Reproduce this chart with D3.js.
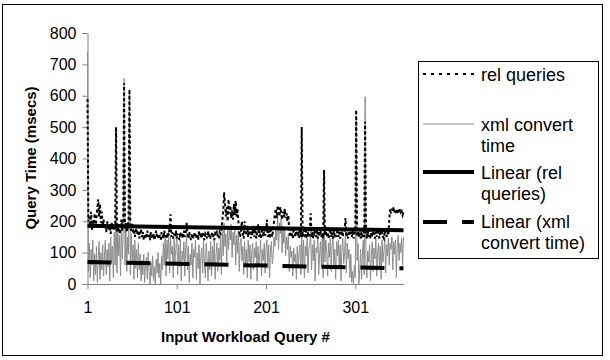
<!DOCTYPE html>
<html>
<head>
<meta charset="utf-8">
<script src="https://cdn.jsdelivr.net/npm/d3@7"></script>
<style>
  body { margin: 0; background: #fff; }
  svg { display: block; font-family: "Liberation Sans", Arial, sans-serif; }
</style>
</head>
<body>
<div id="chart"></div>
<script>
// query time per input workload query (msecs)
const relQueries = [
  590, 200, 215, 185, 230, 170, 205, 190, 225, 180, 210, 240, 270, 215, 255, 195, 230, 185, 205, 175,
  190, 165, 200, 180, 170, 185, 160, 195, 175, 185, 170, 180, 500, 165, 175, 190, 160, 180, 205, 170,
  185, 640, 175, 195, 165, 185, 200, 620, 180, 170, 195, 160, 175, 150, 165, 185, 155, 170, 145, 160,
  175, 150, 165, 140, 160, 155, 145, 170, 150, 160, 140, 165, 150, 145, 160, 140, 155, 170, 150, 145,
  160, 150, 140, 165, 155, 145, 170, 150, 160, 145, 165, 155, 180, 222, 150, 165, 145, 160, 150, 170,
  145, 160, 150, 140, 165, 150, 155, 145, 170, 150, 160, 196, 155, 145, 165, 150, 140, 160, 150, 145,
  165, 155, 145, 160, 140, 170, 150, 155, 145, 165, 150, 140, 160, 155, 145, 170, 150, 160, 145, 155,
  165, 150, 140, 160, 155, 170, 150, 145, 165, 160, 175, 200, 230, 292, 260, 215, 245, 200, 270, 225,
  250, 210, 235, 205, 255, 220, 265, 215, 240, 200, 165, 150, 170, 200, 160, 145, 200, 175, 155, 185,
  150, 165, 180, 145, 170, 155, 185, 150, 175, 145, 165, 190, 150, 170, 145, 160, 180, 150, 175, 155,
  165, 205, 150, 170, 145, 180, 160, 150, 175, 200, 225, 240, 210, 250, 235, 215, 245, 225, 205, 230,
  215, 240, 210, 225, 200, 220, 170, 150, 175, 160, 145, 180, 165, 150, 170, 155, 160, 145, 175, 150,
  500, 150, 165, 180, 145, 170, 155, 160, 150, 175, 225, 150, 165, 145, 170, 160, 150, 175, 145, 165,
  155, 170, 150, 160, 145, 363, 155, 170, 150, 165, 145, 160, 175, 150, 165, 145, 170, 155, 160, 150,
  175, 150, 165, 145, 160, 170, 150, 175, 165, 210, 150, 160, 145, 170, 155, 165, 150, 175, 145, 160,
  170, 555, 155, 165, 150, 175, 145, 160, 155, 170, 150, 517, 165, 145, 170, 150, 160, 145, 165, 150,
  170, 155, 145, 165, 150, 175, 160, 145, 170, 155, 165, 150, 145, 170, 160, 150, 175, 155, 200, 238,
  225, 240, 230, 245, 228, 235, 222, 240, 230, 225, 238, 228, 232, 220, 230
];
const xmlConvert = [
  740, 40, 130, 20, 110, 60, 140, 10, 95, 30, 120, 5, 80, 135, 15, 100, 45, 125, 25, 90,
  140, 30, 110, 55, 130, 10, 150, 70, 120, 20, 165, 60, 240, 35, 180, 90, 155, 25, 190, 80,
  170, 655, 60, 185, 40, 150, 95, 620, 30, 160, 70, 125, 15, 140, 50, 110, 20, 130, 45, 95,
  10, 75, 30, 95, 5, 60, 85, 15, 100, 40, 0, 70, 25, 90, 10, 55, 0, 80, 35, 100,
  20, 65, 0, 90, 45, 130, 60, 155, 25, 140, 80, 170, 35, 150, 95, 120, 20, 145, 70, 110,
  160, 30, 125, 55, 140, 10, 105, 75, 135, 25, 115, 150, 45, 120, 5, 95, 60, 130, 20, 110,
  85, 140, 15, 100, 50, 125, 0, 90, 115, 35, 140, 65, 20, 130, 80, 10, 105, 45, 135, 25,
  120, 60, 140, 15, 95, 130, 40, 115, 75, 150, 30, 170, 90, 195, 120, 160, 70, 185, 110, 175,
  140, 190, 85, 165, 125, 180, 60, 155, 100, 170, 40, 130, 145, 75, 120, 30, 135, 55, 110, 20,
  140, 70, 125, 15, 100, 130, 45, 115, 85, 135, 10, 120, 60, 95, 140, 25, 110, 75, 130, 35,
  115, 140, 50, 125, 20, 105, 135, 65, 90, 150, 120, 175, 140, 222, 110, 195, 160, 210, 100, 185,
  130, 170, 90, 150, 110, 160, 40, 120, 85, 105, 25, 115, 70, 95, 15, 120, 55, 100, 125, 30,
  180, 60, 140, 20, 120, 90, 150, 35, 110, 130, 165, 45, 125, 75, 140, 10, 115, 100, 155, 30,
  95, 135, 55, 150, 20, 250, 70, 140, 105, 25, 130, 85, 145, 40, 120, 150, 60, 110, 15, 135,
  90, 140, 50, 125, 10, 115, 145, 65, 100, 160, 35, 130, 80, 110, 20, 95, 5, 40, 0, 60,
  20, 530, 75, 130, 0, 45, 110, 15, 95, 140, 30, 597, 50, 20, 105, 70, 125, 10, 90, 135,
  40, 115, 80, 145, 25, 100, 130, 55, 120, 15, 140, 70, 105, 150, 35, 125, 90, 145, 60, 130,
  110, 150, 45, 135, 95, 140, 20, 120, 155, 75, 130, 100, 145, 60, 150
];
// linear trendlines, first and last query
const relTrend = [186, 171];
const xmlTrend = [70, 50];
const xTicks = [1, 101, 201, 301];
const yTicks = [0, 100, 200, 300, 400, 500, 600, 700, 800];

const W = 610, H = 360;
const svg = d3.select("#chart").append("svg")
  .attr("width", W).attr("height", H);

svg.append("rect")
  .attr("x", 2.5).attr("y", 4.5).attr("width", 600).attr("height", 351)
  .attr("fill", "none").attr("stroke", "#000").attr("stroke-width", 1);

const n = relQueries.length;
const x = d3.scaleLinear().domain([1, n]).range([87.5, 403.5]);
const y = d3.scaleLinear().domain([0, 800]).range([284, 33]);

const line = d3.line()
  .x((d, i) => x(i + 1))
  .y(d => y(d));

// axes
const yAxis = svg.append("g")
  .attr("transform", "translate(87.5,0)")
  .call(d3.axisLeft(y).tickValues(yTicks).tickSize(5).tickSizeOuter(0).tickPadding(6));
const xAxis = svg.append("g")
  .attr("transform", "translate(0,284)")
  .call(d3.axisBottom(x).tickValues(xTicks).tickSize(5).tickSizeOuter(0).tickPadding(13));
[xAxis, yAxis].forEach(g => {
  g.selectAll("path, line").attr("stroke", "#808080").attr("stroke-width", 1);
  g.selectAll("text").attr("fill", "#000").style("font-size", "16px")
    .style("font-family", "'Liberation Sans', Arial, sans-serif");
});

// series
svg.append("path")
  .datum(xmlConvert)
  .attr("d", line)
  .attr("fill", "none")
  .attr("stroke", "#8c8c8c")
  .attr("stroke-width", 1);

svg.append("path")
  .datum(relQueries)
  .attr("d", line)
  .attr("fill", "none")
  .attr("stroke", "#000")
  .attr("stroke-width", 2)
  .attr("stroke-dasharray", "3,2.5");

const trend = d3.line()
  .x((d, i) => x(i === 0 ? 1 : n))
  .y(d => y(d));

svg.append("path")
  .datum(relTrend)
  .attr("d", trend)
  .attr("stroke", "#000")
  .attr("stroke-width", 4)
  .attr("fill", "none");

svg.append("path")
  .datum(xmlTrend)
  .attr("d", trend)
  .attr("stroke", "#000")
  .attr("stroke-width", 4)
  .attr("stroke-dasharray", "24,15")
  .attr("fill", "none");

// axis titles
svg.append("text")
  .attr("x", 245.5).attr("y", 342)
  .attr("text-anchor", "middle")
  .style("font-size", "15px").style("font-weight", "bold")
  .text("Input Workload Query #");

svg.append("text")
  .attr("transform", "translate(36,158) rotate(-90)")
  .attr("text-anchor", "middle")
  .style("font-size", "15px").style("font-weight", "bold")
  .text("Query Time (msecs)");

// legend
const legend = svg.append("g");
legend.append("rect")
  .attr("x", 418.5).attr("y", 61.5).attr("width", 180).attr("height", 197)
  .attr("fill", "#fff").attr("stroke", "#000").attr("stroke-width", 1);

const legendItems = [
  {lines: ["rel queries"], y: 74, stroke: "#000", width: 2, dash: "3,5", base: 81},
  {lines: ["xml convert", "time"], y: 124, stroke: "#8c8c8c", width: 1, dash: null, base: 131},
  {lines: ["Linear (rel", "queries)"], y: 172, stroke: "#000", width: 4, dash: null, base: 179},
  {lines: ["Linear (xml", "convert time)"], y: 222, stroke: "#000", width: 4, dash: "24,15", base: 228}
];
legendItems.forEach(d => {
  legend.append("line")
    .attr("x1", 423).attr("x2", 474)
    .attr("y1", d.y).attr("y2", d.y)
    .attr("stroke", d.stroke).attr("stroke-width", d.width)
    .attr("stroke-dasharray", d.dash);
  const t = legend.append("text")
    .attr("x", 481).attr("y", d.base)
    .style("font-size", "18px");
  d.lines.forEach((s, i) => {
    t.append("tspan").attr("x", 481).attr("dy", i === 0 ? 0 : 21).text(s);
  });
});
</script>
</body>
</html>
